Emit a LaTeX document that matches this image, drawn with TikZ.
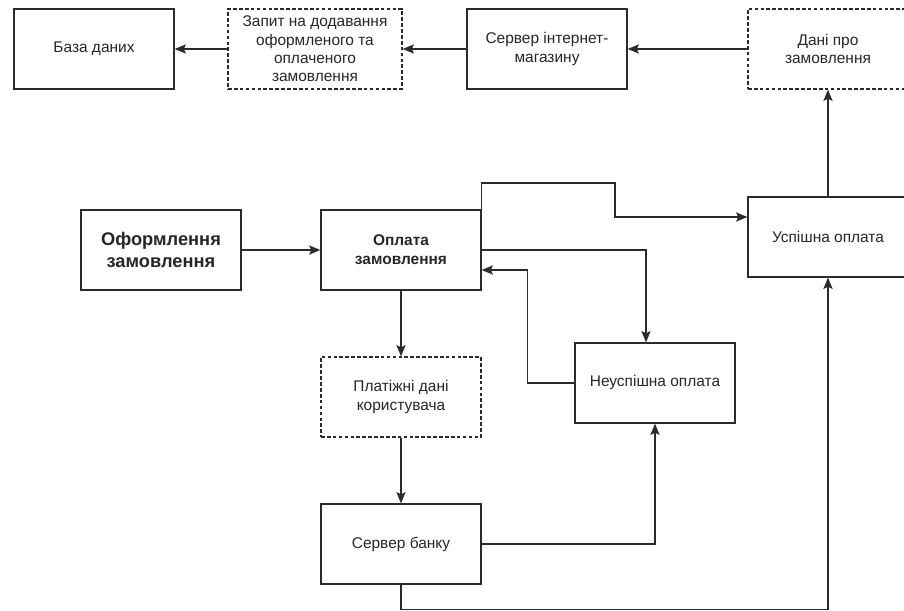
\documentclass[tikz,border=0pt]{standalone}
\usepackage{fontspec}
\setmainfont{Liberation Sans}
\usetikzlibrary{arrows.meta,calc}
\definecolor{ln}{HTML}{2B2B2B}
\begin{document}
\begin{tikzpicture}
[x=0.025cm,y=-0.025cm,
 ar/.style={-{Stealth[length=8pt,width=6.5pt,inset=1.5pt]},line width=0.9pt,ln},
 blk/.style={draw=ln,line width=0.9pt,minimum width=4cm,minimum height=2cm,inner sep=0pt,align=center,
   font=\fontsize{11}{13}\selectfont,text=black!85},
 dblk/.style={blk,dash pattern=on 2.6pt off 1.6pt}]
\useasboundingbox (0,0) rectangle (904,611);

\node [blk] at (94,49) (db) {База даних};
\node [dblk,minimum width=4.35cm] at (315,49) (req) {Запит на додавання\\оформленого та\\оплаченого\\замовлення};
\node [blk] at (547,49) (shop) {Сервер інтернет-\\магазину};
\node [dblk] at (828,49) (data) {Дані про\\замовлення};
\node [blk,font=\fontsize{13}{15.4}\selectfont\bfseries] at (161,250) (ord) {Оформлення\\замовлення};
\node [blk,font=\fontsize{11}{13.5}\selectfont\bfseries] at (401,250) (pay) {Оплата\\замовлення};
\node [blk] at (828,237) (ok) {Успішна оплата};
\node [blk] at (655,383) (fail) {Неуспішна оплата};
\node [dblk] at (401,397) (card) {Платіжні дані\\користувача};
\node [blk] at (401,544) (bank) {Сервер банку};

\coordinate (t1) at (615,183);

\draw [ar] (data) -- (shop);
\draw [ar] (shop) -- (req);
\draw [ar] (req) -- (db);
\draw [ar] (ord) -- (pay);
\draw [ar] (pay.north east) |- (t1) |- ($(ok.west)+(0,-20)$);
\draw [ar] (pay.east) -| ($(fail.north)+(-9,0)$);
\draw [ar] (fail.west) -- ++(-47,0) |- ($(pay.east)+(0,20)$);
\draw [ar] (pay) -- (card);
\draw [ar] (card) -- (bank);
\draw [ar] (bank.east) -| (fail.south);
\draw [ar] (bank.south) -- ++(0,25) -| (ok.south);
\draw [ar] (ok) -- (data);
\end{tikzpicture}
\end{document}
